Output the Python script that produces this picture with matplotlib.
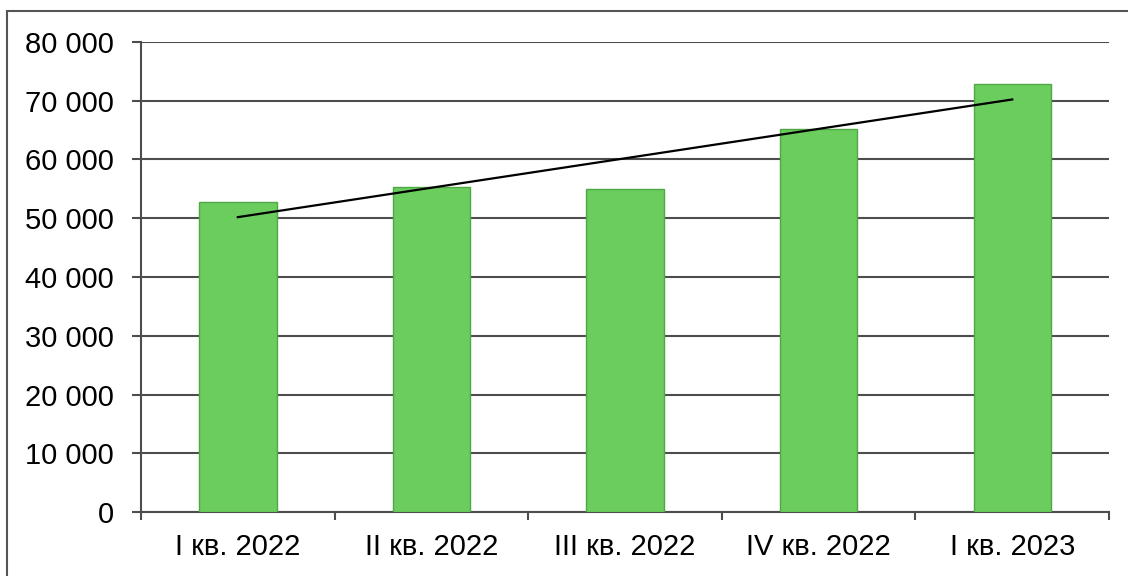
import matplotlib
matplotlib.use("Agg")
import matplotlib.pyplot as plt
from matplotlib.lines import Line2D
from matplotlib.ticker import FuncFormatter
import numpy as np

# quarters and values
quarters = ['I кв. 2022', 'II кв. 2022', 'III кв. 2022', 'IV кв. 2022', 'I кв. 2023']
values = [52770, 55270, 54930, 65190, 72850]
y_ticks = [0, 10000, 20000, 30000, 40000, 50000, 60000, 70000, 80000]


def main():
    plt.rcParams['font.family'] = ['Liberation Sans', 'DejaVu Sans']

    fig = plt.figure(figsize=(11.28, 5.76), dpi=100)
    ax = fig.add_axes([0.125, 0.1111, 0.8582, 0.816])

    x = np.arange(len(quarters))
    ax.bar(x, values, width=0.4, color='#6ccd5f', edgecolor='#4fa843', linewidth=1.0, zorder=3)

    # linear trend over the bars
    k, b = np.polyfit(x, values, 1)
    ax.plot([x[0], x[-1]], [k * x[0] + b, k * x[-1] + b], color='black', lw=1.6, zorder=4)

    ax.set_xlim(-0.5, len(quarters) - 0.5)
    ax.set_ylim(0, 80000)
    ax.set_yticks(y_ticks)
    ax.yaxis.set_major_formatter(FuncFormatter(lambda v, p: f'{int(v):,}'.replace(',', ' ')))
    ax.yaxis.grid(True, color='#4d4d4d', lw=1.5, zorder=0)

    # ticks between categories, labels at centers
    ax.set_xticks(np.arange(-0.5, len(quarters), 1.0))
    ax.set_xticklabels([])
    ax.set_xticks(x, minor=True)
    ax.set_xticklabels(quarters, minor=True)
    ax.tick_params(axis='x', which='major', length=6, width=1.5, color='#4d4d4d', direction='out')
    ax.tick_params(axis='x', which='minor', length=0, pad=15, labelsize=21)
    ax.tick_params(axis='y', length=6.5, width=1.5, color='#4d4d4d', pad=13, labelsize=21)

    for s in ['top', 'right']:
        ax.spines[s].set_visible(False)
    for s in ['left', 'bottom']:
        ax.spines[s].set_color('#4d4d4d')
        ax.spines[s].set_linewidth(1.5)

    # outer frame (left and top visible)
    fx, fy = 7 / 1128, 1 - 11 / 576
    fig.add_artist(Line2D([fx, fx], [0, fy], color='#555555', lw=1.5, transform=fig.transFigure))
    fig.add_artist(Line2D([fx, 1], [fy, fy], color='#555555', lw=1.5, transform=fig.transFigure))

    fig.savefig('out.png', dpi=100)


if __name__ == '__main__':
    main()
